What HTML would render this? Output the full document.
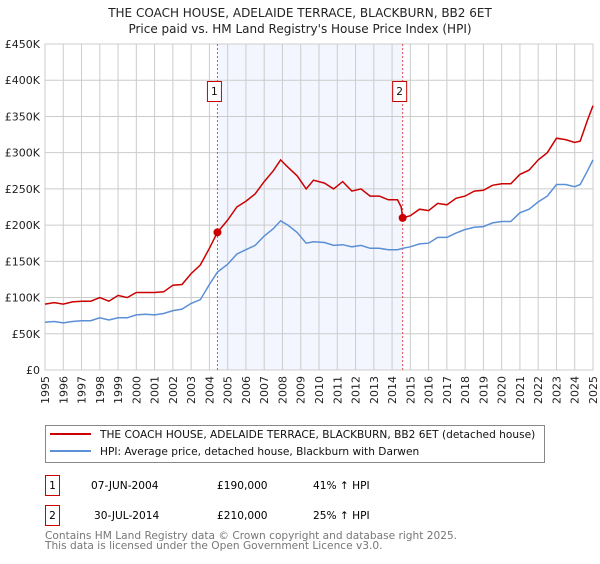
<!DOCTYPE html>
<html><head><meta charset="utf-8">
<style>
body{margin:0;width:600px;height:560px;background:#fff;font-family:"DejaVu Sans","Liberation Sans",sans-serif;overflow:hidden}
svg text{font-family:"DejaVu Sans","Liberation Sans",sans-serif}
</style></head><body>
<svg id="c" width="600" height="560" xmlns="http://www.w3.org/2000/svg">
<text x="300" y="17" text-anchor="middle" font-size="12" fill="#222">THE COACH HOUSE, ADELAIDE TERRACE, BLACKBURN, BB2 6ET</text>
<text x="300" y="33" text-anchor="middle" font-size="12" fill="#222">Price paid vs. HM Land Registry's House Price Index (HPI)</text>
<g id="plot"></g>
<rect x="45.5" y="425.5" width="499" height="37" fill="none" stroke="#888"/>
<line x1="50" y1="434" x2="91" y2="434" stroke="#cc0000" stroke-width="2"/>
<text x="100" y="438" font-size="10.6" fill="#111">THE COACH HOUSE, ADELAIDE TERRACE, BLACKBURN, BB2 6ET (detached house)</text>
<line x1="50" y1="451" x2="91" y2="451" stroke="#5b8fd6" stroke-width="2"/>
<text x="100" y="455" font-size="10.6" fill="#111">HPI: Average price, detached house, Blackburn with Darwen</text>
<g>
<rect x="45.5" y="475.5" width="14" height="20" fill="#fff" stroke="#cc0000"/>
<text x="52.5" y="489" text-anchor="middle" font-size="10.6">1</text>
<text x="91" y="489" font-size="10.6">07-JUN-2004</text>
<text x="217" y="489" font-size="10.6">£190,000</text>
<text x="313" y="489" font-size="10.6">41% ↑ HPI</text>
</g>
<g>
<rect x="45.5" y="505.5" width="14" height="20" fill="#fff" stroke="#cc0000"/>
<text x="52.5" y="519" text-anchor="middle" font-size="10.6">2</text>
<text x="94" y="519" font-size="10.6">30-JUL-2014</text>
<text x="217" y="519" font-size="10.6">£210,000</text>
<text x="313" y="519" font-size="10.6">25% ↑ HPI</text>
</g>
<text x="45" y="539" font-size="10.6" fill="#777">Contains HM Land Registry data © Crown copyright and database right 2025.</text>
<text x="45" y="549" font-size="10.6" fill="#777">This data is licensed under the Open Government Licence v3.0.</text>
</svg>
<script>
const yTicks=[0,50,100,150,200,250,300,350,400,450];
const yTickLabels=["£0","£50K","£100K","£150K","£200K","£250K","£300K","£350K","£400K","£450K"];
const xYears=[1995,1996,1997,1998,1999,2000,2001,2002,2003,2004,2005,2006,2007,2008,2009,2010,2011,2012,2013,2014,2015,2016,2017,2018,2019,2020,2021,2022,2023,2024,2025];
const hpiDates=[1995,1995.5,1996,1996.5,1997,1997.5,1998,1998.5,1999,1999.5,2000,2000.5,2001,2001.5,2002,2002.5,2003,2003.5,2004,2004.44,2005,2005.5,2006,2006.5,2007,2007.5,2007.9,2008.3,2008.8,2009.3,2009.7,2010.3,2010.8,2011.3,2011.8,2012.3,2012.8,2013.3,2013.8,2014.3,2014.58,2015,2015.5,2016,2016.5,2017,2017.5,2018,2018.5,2019,2019.5,2020,2020.5,2021,2021.5,2022,2022.5,2023,2023.5,2024,2024.3,2024.7,2025];
const hpiValues=[66,67,65,67,68,68,72,69,72,72,76,77,76,78,82,84,92,97,118,135,146,160,166,172,185,195,206,200,190,175,177,176,172,173,170,172,168,168,166,166,168,170,174,175,183,183,189,194,197,198,203,205,205,217,222,232,240,256,256,253,256,275,290];
const propDates=[1995,1995.5,1996,1996.5,1997,1997.5,1998,1998.5,1999,1999.5,2000,2000.5,2001,2001.5,2002,2002.5,2003,2003.5,2004,2004.44,2005,2005.5,2006,2006.5,2007,2007.5,2007.9,2008.3,2008.8,2009.3,2009.7,2010.3,2010.8,2011.3,2011.8,2012.3,2012.8,2013.3,2013.8,2014.3,2014.5,2014.58,2015,2015.5,2016,2016.5,2017,2017.5,2018,2018.5,2019,2019.5,2020,2020.5,2021,2021.5,2022,2022.5,2023,2023.5,2024,2024.3,2024.7,2025];
const propValues=[91,93,91,94,95,95,100,95,103,100,107,107,107,108,117,118,133,145,168,190,207,225,233,243,260,275,290,280,268,250,262,258,250,260,247,250,240,240,235,235,225,210,213,222,220,230,228,237,240,247,248,255,257,257,270,276,290,300,320,318,314,316,345,365];
const saleDates=[2004.44,2014.58];
const salePrices=[190,210];
const saleLabels=["1","2"];

const X0=45,X1=593,Y0=370,Y1=44;
const xs=d=>X0+(d-1995)/30*(X1-X0);
const ys=v=>Y0-v/450*(Y0-Y1);
const NS="http://www.w3.org/2000/svg";
const g=document.getElementById('plot');
function mk(t,a){const e=document.createElementNS(NS,t);for(const k in a)e.setAttribute(k,a[k]);g.appendChild(e);return e;}

let e=mk('rect',{x:xs(saleDates[0]),y:Y1,width:xs(saleDates[1])-xs(saleDates[0]),height:Y0-Y1,fill:'#f3f6fe'});


yTicks.forEach((t,i)=>{
  let l=mk('line',{x1:X0,x2:X1,y1:ys(t),y2:ys(t),stroke:'#ccc'});
  
  
  let tx=mk('text',{x:40,y:ys(t)+4,'text-anchor':'end','font-size':11,fill:'#222'});
  tx.textContent=yTickLabels[i];
  
  
});
xYears.forEach(yr=>{
  let l=mk('line',{x1:xs(yr),x2:xs(yr),y1:Y1,y2:Y0,stroke:'#ccc'});
  
  
  let tx=mk('text',{x:0,y:0,'text-anchor':'end','font-size':11,fill:'#222',transform:`translate(${xs(yr)+4},376) rotate(-90)`});
  tx.textContent=yr;
  
  
});
e=mk('rect',{x:X0,y:Y1,width:X1-X0,height:Y0-Y1,fill:'none',stroke:'#ccc'});


saleDates.forEach((d,i)=>{
  let l=mk('line',{x1:xs(d),x2:xs(d),y1:Y1,y2:Y0,stroke:'#e05050','stroke-dasharray':'2,2'});
  
  
});
function line(dates,vals,col,name){
  let p=mk('polyline',{points:dates.map((d,i)=>xs(d).toFixed(1)+','+ys(vals[i]).toFixed(1)).join(' '),fill:'none',stroke:col,'stroke-width':1.5});
  
  
}
line(hpiDates,hpiValues,'#5b8fd6','hpi-line');
line(propDates,propValues,'#cc0000','property-price-line');
saleDates.forEach((d,i)=>{
  let c=mk('circle',{cx:xs(d),cy:ys(salePrices[i]),r:4,fill:'#cc0000'});
  
  
  let bx=xs(d)-3;
  let r=mk('rect',{x:bx-7,y:81.5,width:14,height:20,fill:'#fff',stroke:'#cc0000'});
  
  
  let t=mk('text',{x:bx,y:95,'text-anchor':'middle','font-size':10.6,fill:'#111'});
  t.textContent=saleLabels[i];
  
  
});
</script>
</body></html>
